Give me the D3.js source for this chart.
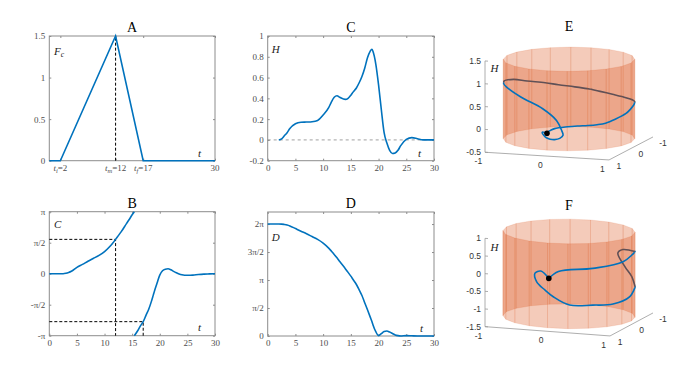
<!DOCTYPE html>
<html>
<head>
<meta charset="utf-8">
<script src="https://cdn.jsdelivr.net/npm/d3@7"></script>
<style>
body { margin: 0; background: #fff; }
</style>
</head>
<body>
<script>
// ---- data ----
// panel A : control force
var tA = [0, 2, 12, 17, 30];
var fcA = [0, 0, 1.5, 0, 0];
var ti = 2, tm = 12, tf = 17;
var aTicks = [ti, tm, tf, 30];
var aTickSub = ["i", "m", "f", ""];

// shared time grid for panels B, C, D and E
var tGrid = [0, 2, 2.5, 3, 3.5, 4, 5, 6, 7, 8, 9, 10, 11, 11.5, 12, 12.5, 13, 14, 14.5, 15, 15.4, 15.4,
             16, 16.5, 17, 17.5, 18, 18.5, 18.8, 19, 19.5, 20, 20.5, 21, 21.5, 22, 22.5, 23, 23.5, 24,
             25, 26, 27, 28, 29, 30];
var cVals = [0, 0, 0, 0.02, 0.06, 0.12, 0.32, 0.47, 0.63, 0.78, 0.93, 1.12, 1.39, 1.55, 1.74, 1.93, 2.12, 2.55, 2.76, 2.99, 3.1416, -3.1416,
             -2.89, -2.64, -2.43, -2.11, -1.80, -1.39, -1.11, -0.92, -0.49, -0.07, 0.15, 0.23, 0.25, 0.20, 0.12, 0.05, -0.01, -0.05,
             -0.08, -0.07, -0.04, -0.02, -0.01, 0];
var hVals = [0, 0, 0.01, 0.04, 0.07, 0.11, 0.155, 0.17, 0.172, 0.175, 0.187, 0.24, 0.31, 0.367, 0.41, 0.425, 0.41, 0.39, 0.40, 0.43, 0.46, 0.46,
             0.50, 0.55, 0.61, 0.69, 0.79, 0.855, 0.873, 0.85, 0.73, 0.53, 0.29, 0.07, -0.03, -0.10, -0.13, -0.125, -0.10, -0.055,
             0.005, 0.022, 0.012, 0, 0, 0];
var dVals = [6.2832, 6.2832, 6.28, 6.26, 6.23, 6.18, 6.03, 5.88, 5.74, 5.58, 5.42, 5.21, 4.93, 4.76, 4.58, 4.39, 4.18, 3.78, 3.57, 3.36, 3.17, 3.17,
             2.89, 2.59, 2.27, 1.87, 1.47, 1.06, 0.81, 0.62, 0.24, 0.02, 0.13, 0.25, 0.28, 0.22, 0.14, 0.06, 0.02, 0,
             0.02, 0.01, 0, 0, 0, 0];

// panel F : trajectory on the cylinder (angle, height)
var phiF = [1.55, 1.40, 0.87, 0.28, -0.33, -0.95, -1.07, -0.89, -0.65, -0.33, 0.07, 0.51, 0.87, 1.23, 1.48, 1.61, 1.75, 1.78, 1.68, 1.55];
var hF   = [0.00, 0.21, 0.29, 0.36, 0.45, 0.30, 0.17, -0.17, -0.37, -0.55, -0.69, -0.78, -0.75, -0.73, -0.51, -0.34, -0.13, 0.11, 0.19, 0.00];

var piTicks = [-Math.PI, -Math.PI / 2, 0, Math.PI / 2, Math.PI];
var piLabels = ["-π", "-π/2", "0", "π/2", "π"];
var dTicks = [0, Math.PI / 2, Math.PI, 3 * Math.PI / 2, 2 * Math.PI];
var dLabels = ["0", "π/2", "π", "3π/2", "2π"];
var hTicks = [-0.2, 0, 0.2, 0.4, 0.6, 0.8, 1];
var tTicks = [0, 5, 10, 15, 20, 25, 30];

// ---- drawing ----
var serif = '"Liberation Serif", "DejaVu Serif", serif';
var sans = '"Liberation Sans", Arial, sans-serif';
var blue = "#0072BD";
var orange = "#D95319";

var svg = d3.select("body").append("svg")
    .attr("width", 683)
    .attr("height", 366)
    .style("background", "#fff");

function axes2d(o) {
    var x = d3.scaleLinear().domain(o.xd).range([o.x0, o.x1]);
    var y = d3.scaleLinear().domain(o.yd).range([o.y1, o.y0]);
    var g = svg.append("g");
    g.append("g").attr("transform", "translate(0," + o.y1 + ")")
        .call(d3.axisBottom(x).tickValues(o.xt).tickSize(-2).tickPadding(4)
            .tickFormat(o.xl ? function(d, i) { return o.xl[i]; } : d3.format("d")));
    g.append("g").attr("transform", "translate(0," + o.y0 + ")")
        .call(d3.axisTop(x).tickValues(o.xt).tickSize(-2).tickFormat(""));
    g.append("g").attr("transform", "translate(" + o.x0 + ",0)")
        .call(d3.axisLeft(y).tickValues(o.yt).tickSize(-2).tickPadding(4)
            .tickFormat(function(d, i) { return o.yl[i]; }));
    g.append("g").attr("transform", "translate(" + o.x1 + ",0)")
        .call(d3.axisRight(y).tickValues(o.yt).tickSize(-2).tickFormat(""));
    g.selectAll(".domain").remove();
    g.selectAll(".tick line").attr("stroke", "#8c8c8c");
    g.selectAll("text").attr("font-family", serif).attr("font-size", 9).attr("fill", "#4d4d4d");
    g.append("rect")
        .attr("x", o.x0).attr("y", o.y0)
        .attr("width", o.x1 - o.x0).attr("height", o.y1 - o.y0)
        .style("fill", "none").style("stroke", "#8c8c8c").style("stroke-width", 1);
    svg.append("text")
        .attr("x", (o.x0 + o.x1) / 2).attr("y", o.y0 - 4)
        .attr("text-anchor", "middle")
        .attr("font-family", serif).attr("font-size", 14)
        .text(o.title);
    return {x: x, y: y, g: g};
}

function mathText(x, y, base, sub, size) {
    var t = svg.append("text").attr("x", x).attr("y", y)
        .attr("font-family", serif).attr("font-size", size).attr("fill", "#222");
    t.append("tspan").style("font-style", "italic").text(base);
    if (sub) t.append("tspan").attr("font-size", size * 0.7).attr("dy", size * 0.22).style("font-style", "italic").text(sub);
    return t;
}

function pairs(xs, ys) { return xs.map(function(d, i) { return [d, ys[i]]; }); }

// panel A
var pA = axes2d({x0: 49.3, x1: 215, y0: 36, y1: 160.7, xd: [0, 30], yd: [0, 1.5],
    xt: aTicks, xl: aTicks.map(function() { return ""; }), yt: [0, 0.5, 1, 1.5], yl: ["0", "0.5", "1", "1.5"], title: "A"});
aTicks.forEach(function(v, i) {
    var t = svg.append("text").attr("x", pA.x(v)).attr("y", 171)
        .attr("text-anchor", "middle").attr("font-family", serif).attr("font-size", 9).attr("fill", "#4d4d4d");
    if (aTickSub[i]) {
        t.append("tspan").style("font-style", "italic").text("t");
        t.append("tspan").attr("font-size", 6.5).attr("dy", 2).style("font-style", "italic").text(aTickSub[i]);
        t.append("tspan").attr("dy", -2).text("=" + v);
    } else {
        t.text(v);
    }
});
svg.append("line")
    .attr("x1", pA.x(tm)).attr("x2", pA.x(tm))
    .attr("y1", pA.y(0)).attr("y2", pA.y(d3.max(fcA)))
    .style("stroke", "#000").style("stroke-dasharray", "3,2").style("stroke-width", 1);
svg.append("path").datum(pairs(tA, fcA))
    .attr("d", d3.line().x(function(d) { return pA.x(d[0]); }).y(function(d) { return pA.y(d[1]); }))
    .style("fill", "none").style("stroke", blue).style("stroke-width", 1.6);
mathText(54, 55, "F", "c", 11);
mathText(198, 157, "t", "", 11);

// panel B
var pB = axes2d({x0: 49.3, x1: 215, y0: 211.7, y1: 335.7, xd: [0, 30], yd: [-Math.PI, Math.PI],
    xt: tTicks, yt: piTicks, yl: piLabels, title: "B"});
var cm = cVals[tGrid.indexOf(tm)], cf = cVals[tGrid.lastIndexOf(tf)];
[[tm, cm], [tf, cf]].forEach(function(p) {
    svg.append("path")
        .attr("d", "M" + pB.x(0) + "," + pB.y(p[1]) + "H" + pB.x(p[0]) + "V" + pB.y(-Math.PI))
        .style("fill", "none").style("stroke", "#000").style("stroke-dasharray", "3,2").style("stroke-width", 1);
});
var runsB = [[]];
tGrid.forEach(function(t, i) {
    var cur = runsB[runsB.length - 1];
    if (cur.length && Math.abs(cVals[i] - cur[cur.length - 1][1]) > Math.PI) { runsB.push([]); cur = runsB[runsB.length - 1]; }
    cur.push([t, cVals[i]]);
});
var lineB = d3.line().x(function(d) { return pB.x(d[0]); }).y(function(d) { return pB.y(d[1]); }).curve(d3.curveMonotoneX);
runsB.forEach(function(r) {
    svg.append("path").attr("d", lineB(r))
        .style("fill", "none").style("stroke", blue).style("stroke-width", 1.6);
});
mathText(54, 228, "C", "", 11);
mathText(198, 331, "t", "", 11);

// panel C
var pC = axes2d({x0: 267.7, x1: 434, y0: 36, y1: 160.7, xd: [0, 30], yd: [-0.2, 1],
    xt: tTicks, yt: hTicks, yl: ["-0.2", "0", "0.2", "0.4", "0.6", "0.8", "1"], title: "C"});
svg.append("line")
    .attr("x1", pC.x(0)).attr("x2", pC.x(30)).attr("y1", pC.y(0)).attr("y2", pC.y(0))
    .style("stroke", "#888").style("stroke-dasharray", "3,3").style("stroke-width", 0.8);
var ptsC = pairs(tGrid, hVals).filter(function(d, i) { return d[0] >= ti && tGrid[i] !== tGrid[i - 1]; });
svg.append("path").datum(ptsC)
    .attr("d", d3.line().x(function(d) { return pC.x(d[0]); }).y(function(d) { return pC.y(d[1]); }).curve(d3.curveMonotoneX))
    .style("fill", "none").style("stroke", blue).style("stroke-width", 1.6);
mathText(271.7, 53, "H", "", 11);
mathText(418, 157, "t", "", 11);

// panel D
var pD = axes2d({x0: 267.7, x1: 434, y0: 212, y1: 336, xd: [0, 30], yd: [0, 6.96],
    xt: tTicks, yt: dTicks, yl: dLabels, title: "D"});
var ptsD = pairs(tGrid, dVals).filter(function(d, i) { return tGrid[i] !== tGrid[i - 1]; });
svg.append("path").datum(ptsD)
    .attr("d", d3.line().x(function(d) { return pD.x(d[0]); }).y(function(d) { return pD.y(d[1]); }).curve(d3.curveMonotoneX))
    .style("fill", "none").style("stroke", blue).style("stroke-width", 1.6);
mathText(271.7, 241, "D", "", 11);
mathText(420, 332, "t", "", 11);

// 3D cylinder panels
function cyl3d(o, pts) {
    var g = svg.append("g");
    var zs = d3.scaleLinear().domain(o.zd).range([o.cy, o.cy - o.zh]);
    function P(x, y, z) { return [o.cx + o.ux * x + o.vx * y, zs(z) + o.uy * x + o.vy * y]; }
    function depth(x, y) { return -o.vx * x + o.ux * y; }
    var z0 = o.zd[0];
    var axStyle = function(s) { s.style("stroke", "#999").style("stroke-width", 0.8).style("fill", "none"); };

    // axes
    g.append("path").attr("d", d3.line()([P(-1, 1, o.zd[0]), P(-1, 1, o.zd[1])])).call(axStyle);
    g.append("path").attr("d", d3.line()([P(-1, 1, z0), P(1, 1, z0)])).call(axStyle);
    g.append("path").attr("d", d3.line()([P(1, 1, z0), P(1, -1, z0)])).call(axStyle);
    o.zt.forEach(function(v) {
        var p = P(-1, 1, v);
        g.append("line").attr("x1", p[0]).attr("x2", p[0] + 3).attr("y1", p[1]).attr("y2", p[1] + 0.2).call(axStyle);
        g.append("text").attr("x", p[0] - 4).attr("y", p[1]).attr("dy", "0.35em")
            .attr("text-anchor", "end").attr("font-family", sans).attr("font-size", 8.5).attr("fill", "#333").text(v);
    });
    [-1, 0, 1].forEach(function(v) {
        var p = P(v, 1.3, z0);
        g.append("text").attr("x", p[0]).attr("y", p[1] + 5.5).attr("dy", "0.35em")
            .attr("text-anchor", "middle").attr("font-family", sans).attr("font-size", 8.5).attr("fill", "#333").text(v);
        var q = P(1.16, v, z0);
        g.append("text").attr("x", q[0]).attr("y", q[1] + 5).attr("dy", "0.35em")
            .attr("text-anchor", "middle").attr("font-family", sans).attr("font-size", 8.5).attr("fill", "#333").text(v);
    });

    // cylinder facets
    var n = 20, facets = [];
    for (var k = 0; k < n; k++) {
        var a0 = 2 * Math.PI * k / n, a1 = 2 * Math.PI * (k + 1) / n, am = (a0 + a1) / 2;
        facets.push({
            front: depth(Math.cos(am), Math.sin(am)) > 0,
            pts: [P(Math.cos(a0), Math.sin(a0), o.cyl[0]), P(Math.cos(a1), Math.sin(a1), o.cyl[0]),
                  P(Math.cos(a1), Math.sin(a1), o.cyl[1]), P(Math.cos(a0), Math.sin(a0), o.cyl[1])]
        });
    }
    function drawFacets(front) {
        g.selectAll(null).data(facets.filter(function(f) { return f.front === front; }))
            .enter().append("path")
            .attr("d", function(f) { return "M" + f.pts.join("L") + "Z"; })
            .style("fill", orange).style("fill-opacity", 0.3)
            .style("stroke", orange).style("stroke-opacity", 0.18).style("stroke-width", 0.7);
    }

    // split curve into front / back runs
    var runs = [], cur = null;
    pts.forEach(function(p, i) {
        var f = depth(p[0], p[1]) >= 0;
        if (!cur) { cur = {front: f, pts: [p]}; runs.push(cur); return; }
        if (f !== cur.front) {
            var q = pts[i - 1], dq = depth(q[0], q[1]), dp = depth(p[0], p[1]);
            var s = dq / (dq - dp);
            var c = [q[0] + s * (p[0] - q[0]), q[1] + s * (p[1] - q[1]), q[2] + s * (p[2] - q[2])];
            cur.pts.push(c);
            cur = {front: f, pts: [c]};
            runs.push(cur);
        }
        cur.pts.push(p);
    });
    var line3 = d3.line().curve(d3.curveCatmullRom.alpha(0.5));
    function drawRuns(front) {
        runs.filter(function(r) { return r.front === front; }).forEach(function(r) {
            g.append("path").attr("d", line3(r.pts.map(function(p) { return P(p[0], p[1], p[2]); })))
                .style("fill", "none").style("stroke", front ? blue : "#2a4f70").style("stroke-width", 1.6);
        });
    }

    drawFacets(false);
    drawRuns(false);
    drawFacets(true);
    drawRuns(true);

    var s = P(pts[0][0], pts[0][1], pts[0][2]);
    g.append("circle").attr("cx", s[0]).attr("cy", s[1]).attr("r", 2.8).style("fill", "#000");

    svg.append("text").attr("x", o.cx).attr("y", o.titleY).attr("text-anchor", "middle")
        .attr("font-family", serif).attr("font-size", 14).text(o.title);
    mathText(o.cx - 78.5, o.hY, "H", "", 11);
}

var ptsE = tGrid.map(function(t, i) { return [Math.sin(cVals[i]), Math.cos(cVals[i]), hVals[i]]; });
cyl3d({cx: 569, cy: 144.6, ux: 62, uy: 3.85, vx: -22, vy: 11.5, zd: [-0.5, 1.5], zh: 91.3,
    cyl: [-0.37, 1.37], zt: [-0.5, 0, 0.5, 1, 1.5], title: "E", titleY: 31, hY: 72}, ptsE);

var ptsF = phiF.map(function(a, i) { return [Math.cos(a), Math.sin(a), hF[i]]; });
cyl3d({cx: 569, cy: 319.8, ux: 62.5, uy: 4.65, vx: -21.5, vy: 11.5, zd: [-1.5, 1], zh: 88.3,
    cyl: [-1.4, 1.0], zt: [-1.5, -1, -0.5, 0, 0.5, 1], title: "F", titleY: 210, hY: 251}, ptsF);
</script>
</body>
</html>
